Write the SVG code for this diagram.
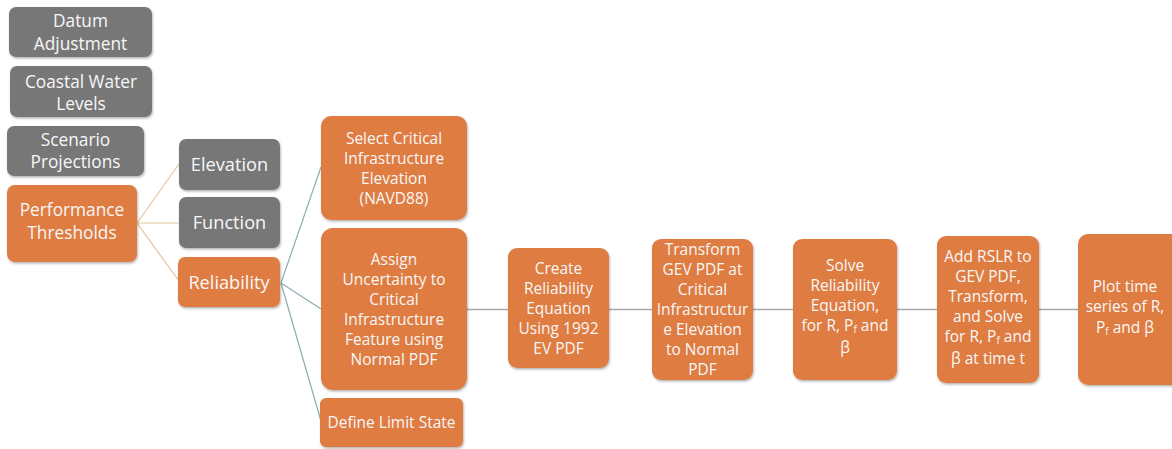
<svg xmlns="http://www.w3.org/2000/svg" width="1172" height="449" viewBox="0 0 1172 449">
  <style>
    .box { stroke: none; filter: url(#shadow); }
    .gray { fill: #777777; }
    .orange { fill: #DF7B42; }
    text { font-family: "Open Sans", "Liberation Sans", sans-serif; fill: #F7F7F7; text-anchor: middle; }
    .big { font-size: 17.3px; }
    .mid { font-size: 18.2px; }
    .small { font-size: 15.5px; }
    .sub { font-size: 10px; }
    .tan { stroke: #E3C598; stroke-width: 1.2; fill: none; }
    .teal { stroke: #8DADB3; stroke-width: 1.2; fill: none; }
    .flow { stroke: #A9A9A9; stroke-width: 1.4; fill: none; }
  </style>
  <defs>
    <filter id="shadow" x="-10%" y="-10%" width="130%" height="130%">
      <feDropShadow dx="0.8" dy="1.5" stdDeviation="1.2" flood-color="#000000" flood-opacity="0.3"/>
    </filter>
  </defs>
  <rect width="1172" height="449" fill="#FFFFFF"/>

  <!-- connectors -->
  <g id="connectors">
    <line class="tan" x1="137" y1="223" x2="179" y2="164"/>
    <line class="tan" x1="137" y1="223" x2="179" y2="223"/>
    <line class="tan" x1="137" y1="223" x2="179" y2="281"/>
    <line class="teal" x1="281" y1="283" x2="321" y2="167"/>
    <line class="teal" x1="281" y1="283" x2="321" y2="309"/>
    <line class="teal" x1="281" y1="283" x2="321" y2="421"/>
    <line class="flow" x1="467" y1="309.5" x2="508" y2="309.5"/>
    <line class="flow" x1="609" y1="309.5" x2="652" y2="309.5"/>
    <line class="flow" x1="753" y1="309.5" x2="793" y2="309.5"/>
    <line class="flow" x1="897" y1="309.5" x2="937" y2="309.5"/>
    <line class="flow" x1="1039" y1="309.5" x2="1078" y2="309.5"/>
  </g>

  <!-- left column -->
  <g id="datum-adjustment">
    <rect class="box gray" x="9" y="7" width="143" height="50" rx="7"/>
    <text class="big" x="80.5" y="27">Datum</text>
    <text class="big" x="80.5" y="49.5">Adjustment</text>
  </g>
  <g id="coastal-water-levels">
    <rect class="box gray" x="10" y="66" width="142" height="51" rx="7"/>
    <text class="big" x="81" y="87.5">Coastal Water</text>
    <text class="big" x="81" y="110">Levels</text>
  </g>
  <g id="scenario-projections">
    <rect class="box gray" x="7" y="126" width="137" height="50" rx="7"/>
    <text class="big" x="75.5" y="146">Scenario</text>
    <text class="big" x="75.5" y="168">Projections</text>
  </g>
  <g id="performance-thresholds">
    <rect class="box orange" x="7" y="185" width="130" height="77" rx="8"/>
    <text class="big" x="72" y="216">Performance</text>
    <text class="big" x="72" y="238.5">Thresholds</text>
  </g>

  <!-- threshold types -->
  <g id="elevation">
    <rect class="box gray" x="179" y="139" width="101" height="51" rx="7"/>
    <text class="mid" x="229.5" y="170.5">Elevation</text>
  </g>
  <g id="function">
    <rect class="box gray" x="179" y="197" width="101" height="51" rx="7"/>
    <text class="mid" x="229.5" y="229">Function</text>
  </g>
  <g id="reliability">
    <rect class="box orange" x="178" y="257" width="102" height="50" rx="7"/>
    <text class="mid" x="229" y="288.5">Reliability</text>
  </g>

  <!-- reliability sub-steps -->
  <g id="select-elevation">
    <rect class="box orange" x="321" y="116" width="146" height="104" rx="10"/>
    <text class="small" x="394" y="143.5">Select Critical</text>
    <text class="small" x="394" y="163.5">Infrastructure</text>
    <text class="small" x="394" y="183.5">Elevation</text>
    <text class="small" x="394" y="203.5">(NAVD88)</text>
  </g>
  <g id="assign-uncertainty">
    <rect class="box orange" x="321" y="228" width="146" height="162" rx="12"/>
    <text class="small" x="394" y="265">Assign</text>
    <text class="small" x="394" y="285">Uncertainty to</text>
    <text class="small" x="394" y="305">Critical</text>
    <text class="small" x="394" y="325">Infrastructure</text>
    <text class="small" x="394" y="345">Feature using</text>
    <text class="small" x="394" y="365">Normal PDF</text>
  </g>
  <g id="define-limit-state">
    <rect class="box orange" x="320" y="398" width="143" height="49" rx="6"/>
    <text class="small" x="391.5" y="428">Define Limit State</text>
  </g>

  <!-- solution sequence -->
  <g id="create-equation">
    <rect class="box orange" x="508" y="248" width="101" height="120" rx="9"/>
    <text class="small" x="558.5" y="274">Create</text>
    <text class="small" x="558.5" y="294">Reliability</text>
    <text class="small" x="558.5" y="314">Equation</text>
    <text class="small" x="558.5" y="334">Using 1992</text>
    <text class="small" x="558.5" y="354">EV PDF</text>
  </g>
  <g id="transform-gev">
    <rect class="box orange" x="652" y="239" width="101" height="141" rx="9"/>
    <text class="small" x="702.5" y="255">Transform</text>
    <text class="small" x="702.5" y="275">GEV PDF at</text>
    <text class="small" x="702.5" y="295">Critical</text>
    <text class="small" x="702.5" y="315">Infrastructur</text>
    <text class="small" x="702.5" y="335">e Elevation</text>
    <text class="small" x="702.5" y="355">to Normal</text>
    <text class="small" x="702.5" y="375">PDF</text>
  </g>
  <g id="solve-equation">
    <rect class="box orange" x="793" y="239" width="104" height="141" rx="9"/>
    <text class="small" x="845" y="271">Solve</text>
    <text class="small" x="845" y="291">Reliability</text>
    <text class="small" x="845" y="311">Equation,</text>
    <text class="small" x="845" y="331">for R, P<tspan class="sub" dy="2">f</tspan><tspan dy="-2"> and</tspan></text>
    <text class="small" x="845" y="353">β</text>
  </g>
  <g id="add-rslr">
    <rect class="box orange" x="937" y="236" width="102" height="147" rx="9"/>
    <text class="small" x="988" y="262">Add RSLR to</text>
    <text class="small" x="988" y="282">GEV PDF,</text>
    <text class="small" x="988" y="302">Transform,</text>
    <text class="small" x="988" y="322">and Solve</text>
    <text class="small" x="988" y="342">for R, P<tspan class="sub" dy="2">f</tspan><tspan dy="-2"> and</tspan></text>
    <text class="small" x="988" y="364">β at time t</text>
  </g>
  <g id="plot-time-series">
    <rect class="box orange" x="1078" y="234" width="110" height="151" rx="10"/>
    <text class="small" x="1125" y="292">Plot time</text>
    <text class="small" x="1125" y="312">series of R,</text>
    <text class="small" x="1125" y="333">P<tspan class="sub" dy="2">f</tspan><tspan dy="-2"> and β</tspan></text>
  </g>
</svg>
